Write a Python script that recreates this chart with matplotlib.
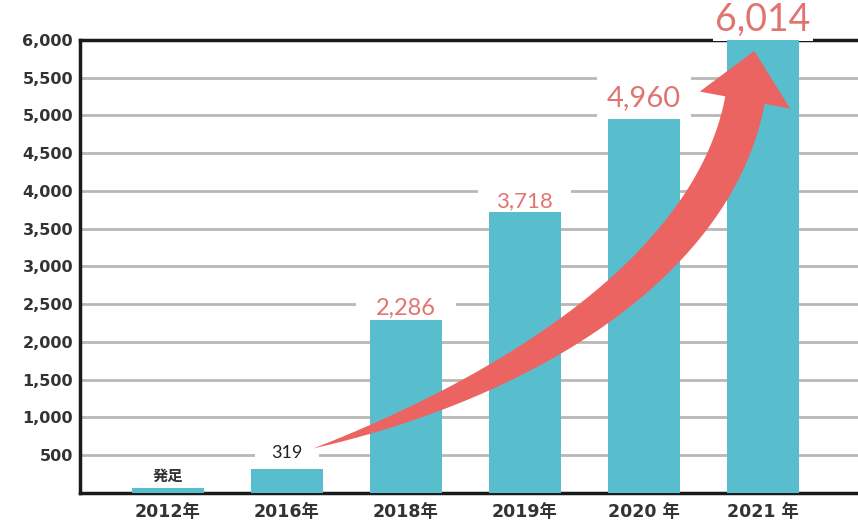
import numpy as np
import matplotlib.pyplot as plt
from matplotlib.patches import Polygon, Rectangle
from matplotlib.transforms import IdentityTransform

plt.rcParams['font.family'] = ['DejaVu Sans', 'Noto Sans CJK JP']

# データ
years = ['2012年', '2016年', '2018年', '2019年', '2020 年', '2021 年']
values = [60, 319, 2286, 3718, 4960, 6014]
labels = ['発足', '319', '2,286', '3,718', '4,960', '6,014']
yticks = list(range(500, 6001, 500))

# ラベルのスタイル (オフセット・余白はピクセル)
lab_size = [11, 13, 17, 16, 21, 27]
lab_color = ['#333333', '#222222', '#e07470', '#e07470', '#e07470', '#e07470']
lab_off = [13.5, 17, 14, 13, 22.5, 22]
lab_family = [['Noto Sans CJK JP'], ['Lato'], ['Lato'], ['Lato'], ['Lato'], ['Lato']]
lab_padx = [8, 16, 20, 18, 10, 2]
lab_pady = [3, 4, 3, 3, 9, 4]

bar_color = '#58bece'
arrow_color = '#ec6461'

fig = plt.figure(figsize=(8.58, 5.29), dpi=100)
ax = fig.add_axes([0.0932, 0.0681, 0.9068, 0.8563])

x = np.arange(len(years))
ax.bar(x, values, width=0.6, color=bar_color, zorder=3.5)

ax.set_xlim(-0.74, 5.8)
ax.set_ylim(0, 6000)
ax.set_xticks(x)
ax.set_xticklabels(years, fontsize=12.5, fontweight='bold', color='#333333')
ax.set_yticks(yticks)
ax.set_yticklabels([f'{v:,}' for v in yticks], fontsize=11.5, fontweight='bold', color='#333333')
ax.tick_params(length=0)
ax.tick_params(axis='y', pad=5)
ax.tick_params(axis='x', pad=7)
ax.yaxis.grid(True, color='#b8b8b8', lw=2)
ax.set_axisbelow(True)

ax.spines['right'].set_visible(False)
for s in ['top', 'left', 'bottom']:
    ax.spines[s].set_linewidth(2.5)
    ax.spines[s].set_color('#1a1a1a')

# 値ラベル
texts = []
for i in range(len(values)):
    fs_px = lab_size[i] * 100 / 72
    off_pt = (lab_off[i] - 0.36 * fs_px) * 72 / 100
    t = ax.annotate(labels[i], (x[i], values[i]), xytext=(0, off_pt),
                    textcoords='offset points', ha='center', va='baseline',
                    fontsize=lab_size[i], color=lab_color[i], family=lab_family[i],
                    fontweight='bold' if i == 0 else 'normal',
                    zorder=5, annotation_clip=False)
    texts.append(t)

fig.canvas.draw()
for i, t in enumerate(texts):
    bb = t.get_window_extent()
    z = 3 if i == len(texts) - 1 else 1
    ax.add_patch(Rectangle((bb.x0 - lab_padx[i], bb.y0 - lab_pady[i]),
                           bb.width + 2 * lab_padx[i], bb.height + 2 * lab_pady[i],
                           transform=IdentityTransform(), fc='white', ec='none',
                           zorder=z, clip_on=False))

# 曲がった矢印 (319 から 6,014 へ)
p0 = np.array([x[1] + 0.22, values[1] + 270])
p3 = np.array([x[5] - 0.15, values[5] - 810])
d = p3 - p0
p1 = p0 + d * np.array([0.5, 0.19])
p2 = p0 + d * np.array([0.93, 0.54])
ctrl = ax.transData.transform(np.array([p0, p1, p2, p3]))

tt = np.linspace(0, 1, 120)[:, None]
c = (1 - tt) ** 3 * ctrl[0] + 3 * (1 - tt) ** 2 * tt * ctrl[1] + 3 * (1 - tt) * tt ** 2 * ctrl[2] + tt ** 3 * ctrl[3]
dc = 3 * (1 - tt) ** 2 * (ctrl[1] - ctrl[0]) + 6 * (1 - tt) * tt * (ctrl[2] - ctrl[1]) + 3 * tt ** 2 * (ctrl[3] - ctrl[2])
tan = dc / np.linalg.norm(dc, axis=1)[:, None]
nor = np.column_stack([-tan[:, 1], tan[:, 0]])
w = 40 * (1 - (1 - tt) ** 2.5)
left = c + nor * w / 2
right = c - nor * w / 2
tip = c[-1] + tan[-1] * 50
wl = c[-1] + nor[-1] * 46
wr = c[-1] - nor[-1] * 46
poly = np.vstack([left, [wl], [tip], [wr], right[::-1]])
poly = ax.transData.inverted().transform(poly)
ax.add_patch(Polygon(poly, closed=True, fc=arrow_color, ec='none', zorder=4, clip_on=False))

fig.savefig('out.png', dpi=100)
